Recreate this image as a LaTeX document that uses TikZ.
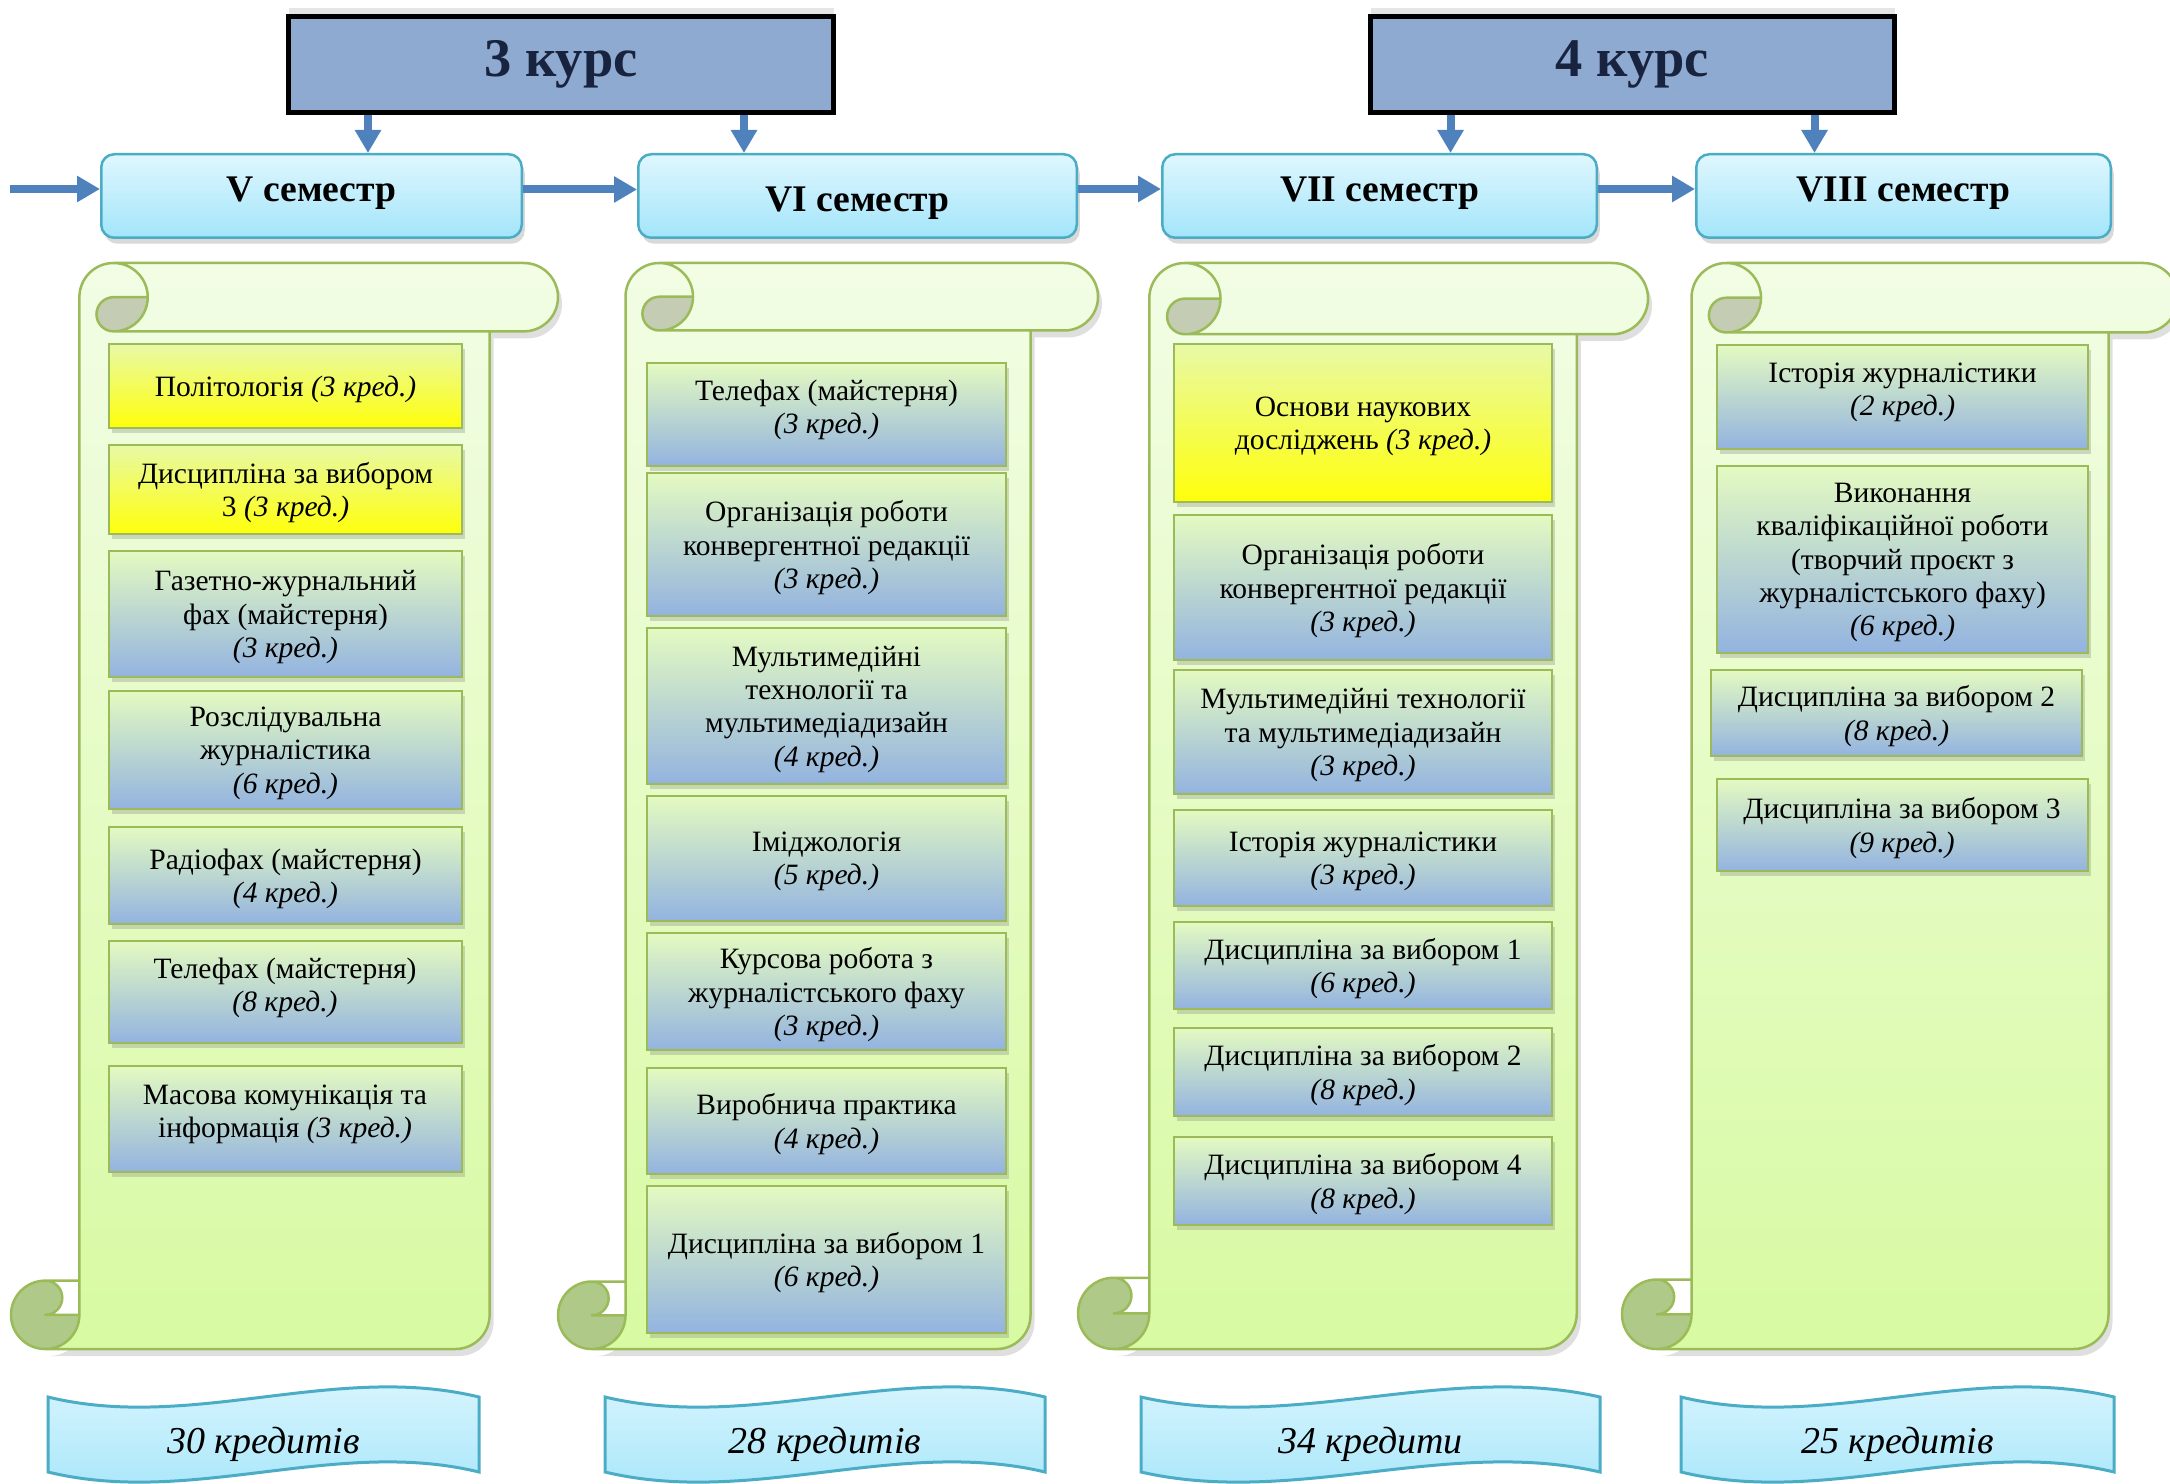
\documentclass[tikz,border=0pt]{standalone}
\usepackage{fontspec}
\setmainfont{Liberation Serif}
\usetikzlibrary{positioning,arrows.meta,shadows}

\definecolor{flowblue}{HTML}{4F81BD}
\definecolor{courseblue}{HTML}{8FAAD1}
\definecolor{coursetext}{HTML}{18243F}
\definecolor{semline}{HTML}{4BACC6}
\definecolor{semtop}{HTML}{DFF7FE}
\definecolor{sembot}{HTML}{A3E5FA}
\definecolor{scrollline}{HTML}{9BBB59}
\definecolor{scrolltop}{HTML}{F2FDE5}
\definecolor{scrollbot}{HTML}{D8FAA2}
\definecolor{rollshade}{HTML}{C4CCB3}
\definecolor{curlshade}{HTML}{AFCA88}
\definecolor{subjtop}{HTML}{E4FAC1}
\definecolor{subjbot}{HTML}{93B3E0}
\definecolor{yeltop}{HTML}{E8F9A6}
\definecolor{yelbot}{HTML}{FFFF0A}

\tikzset{
  course/.style={draw=black, line width=0.5mm, fill=courseblue, minimum height=9.6mm,
    text=coursetext, font=\fontsize{15.5}{18}\selectfont\bfseries,
    drop shadow={opacity=0.2, shadow xshift=0mm, shadow yshift=0.8mm}},
  semester/.style={draw=semline, line width=0.25mm, rounded corners=1.3mm,
    top color=semtop, bottom color=sembot, minimum height=8.35mm, text depth=1.4mm,
    font=\fontsize{10.7}{12}\selectfont\bfseries,
    drop shadow={opacity=0.3, shadow xshift=0.3mm, shadow yshift=-0.6mm}},
  subject/.style={draw=scrollline, line width=0.2mm, top color=subjtop, bottom color=subjbot,
    align=center, inner sep=0.5mm, text depth=0mm, font=\fontsize{8.4}{9.5}\selectfont,
    drop shadow={opacity=0.3, shadow xshift=0.3mm, shadow yshift=-0.5mm}},
  chosen/.style={subject, top color=yeltop, bottom color=yelbot},
  raised/.style={text depth=1.5mm},
  flow/.style={draw=flowblue, line width=0.8mm, -{Triangle[length=2.3mm,width=2.5mm]}},
  credits/.style={draw=semline, line width=0.3mm, top color=semtop, bottom color=sembot},
  creditlabel/.style={font=\fontsize{10.8}{13}\selectfont\itshape},
  outline/.style={draw=scrollline, line width=0.25mm, line join=round},
}

% vertical scroll: left, top, right, bottom
\newcommand{\drawscroll}[4]{%
  \pgfmathsetmacro\rollw{0.125*min(#3-#1,#4-#2)}
  \pgfmathsetmacro\rollh{\rollw/2}
  \pgfmathsetmacro\rollq{\rollw/4}
  \path[top color=scrolltop, bottom color=scrollbot,
    drop shadow={opacity=0.25, shadow xshift=0.4mm, shadow yshift=-0.7mm}]
    (#1+\rollh,#4) arc[start angle=90, delta angle=-90, radius=\rollh]
    -- (#1+\rollw,#2+\rollh) arc[start angle=180, delta angle=90, radius=\rollh]
    -- (#3-\rollh,#2) arc[start angle=270, delta angle=180, radius=\rollh]
    -- (#3-\rollw,#2+\rollw) -- (#3-\rollw,#4-\rollh) arc[start angle=0, delta angle=90, radius=\rollh]
    -- cycle;
  \fill[rollshade] (#1+2*\rollw,#2+\rollh) arc[start angle=0, delta angle=90, radius=\rollh]
    arc[start angle=90, delta angle=180, radius=\rollq] -- cycle;
  \fill[curlshade] (#1+\rollw,#4-\rollh) arc[start angle=0, delta angle=270, radius=\rollh]
    arc[start angle=270, delta angle=180, radius=\rollq] -- cycle;
  \draw[outline] (#1+\rollw,#4-\rollw) -- (#1+\rollw,#2+\rollh)
    arc[start angle=180, delta angle=90, radius=\rollh]
    -- (#3-\rollh,#2) arc[start angle=270, delta angle=180, radius=\rollh]
    -- (#3-\rollw,#2+\rollw) -- (#3-\rollw,#4-\rollh) arc[start angle=0, delta angle=90, radius=\rollh]
    -- (#1+\rollh,#4) arc[start angle=90, delta angle=180, radius=\rollh] -- cycle
    (#1+1.5*\rollw,#2) arc[start angle=270, delta angle=180, radius=\rollh]
    arc[start angle=90, delta angle=180, radius=\rollq] -- (#1+2*\rollw,#2+\rollh)
    (#3-\rollw,#2+\rollw) -- (#1+1.5*\rollw,#2+\rollw)
    (#1+\rollh,#4-\rollw) arc[start angle=270, delta angle=180, radius=\rollq] -- (#1+\rollw,#4-\rollh)
    (#1+\rollh,#4) arc[start angle=90, delta angle=-90, radius=\rollh] -- (#1+\rollw,#4-\rollw);
}

% wavy credit band: left, right, name, text
\newcommand{\drawband}[4]{%
  \pgfmathsetmacro\bandA{#1+(#2-#1)/3}
  \pgfmathsetmacro\bandB{#1+2*(#2-#1)/3}
  \path[credits] (#1,1397) .. controls (\bandA,1432) and (\bandB,1362) .. (#2,1397)
    -- (#2,1472) .. controls (\bandB,1437) and (\bandA,1507) .. (#1,1472) -- cycle;
  \node[creditlabel] (#3) at ({(#1+#2)/2},1444) {#4};
}

\begin{document}
\begin{tikzpicture}[x=0.1mm, y=-0.1mm]
  \useasboundingbox (0,0) rectangle (2170,1483);

  % scrolls
  \drawscroll{11}{263}{558}{1349}
  \drawscroll{558}{263}{1098}{1349}
  \drawscroll{1078}{263}{1648}{1349}
  \drawscroll{1622}{263}{2178}{1349}

  % courses and semesters
  \node[course, minimum width=54.5mm] (c3) at (561,64.5) {3 курс};
  \node[course, minimum width=52.4mm] (c4) at (1632.5,64.5) {4 курс};

  \node[semester, minimum width=42.05mm] (s5) at (311.5,196) {V семестр};
  \node[semester, minimum width=43.85mm, text height=4.6mm] (s6) at (857.5,196) {VI семестр};
  \node[semester, minimum width=43.45mm] (s7) at (1379.5,196) {VII семестр};
  \node[semester, minimum width=41.45mm] (s8) at (1903.5,196) {VIII семестр};

  \coordinate (entry) at (10,189);
  \draw[flow] (entry) -- (s5.west |- entry);
  \draw[flow] ([yshift=0.65mm]s5.east) -- ([yshift=0.65mm]s6.west);
  \draw[flow] ([yshift=0.7mm]s6.east) -- ([yshift=0.7mm]s7.west);
  \draw[flow] ([yshift=0.7mm]s7.east) -- ([yshift=0.7mm]s8.west);

  \draw[flow] ([xshift=8.2mm]c3.south west) -- ([xshift=8.2mm]c3.south west |- s5.north);
  \draw[flow] ([xshift=-9.2mm]c3.south east) -- ([xshift=-9.2mm]c3.south east |- s6.north);
  \draw[flow] ([xshift=8.25mm]c4.south west) -- ([xshift=8.25mm]c4.south west |- s7.north);
  \draw[flow] ([xshift=-8.25mm]c4.south east) -- ([xshift=-8.25mm]c4.south east |- s8.north);

  % V semester
  \node[chosen, minimum width=35.3mm, minimum height=8.4mm] (v1) at (285.5,386) {Політологія \textit{(3 кред.)}};
  \node[chosen, minimum width=35.3mm, minimum height=8.9mm] (v2) at (285.5,489.5) {Дисципліна за вибором\\3 \textit{(3 кред.)}};
  \node[subject, minimum width=35.3mm, minimum height=12.6mm] (v3) at (285.5,614) {Газетно-журнальний\\фах (майстерня)\\\textit{(3 кред.)}};
  \node[subject, minimum width=35.3mm, minimum height=11.8mm] (v4) at (285.5,750) {Розслідувальна\\журналістика\\\textit{(6 кред.)}};
  \node[subject, minimum width=35.3mm, minimum height=9.7mm] (v5) at (285.5,875.5) {Радіофах (майстерня)\\\textit{(4 кред.)}};
  \node[subject, raised, minimum width=35.3mm, minimum height=10.2mm] (v6) at (285,992) {Телефах (майстерня)\\\textit{(8 кред.)}};
  \node[subject, raised, minimum width=35.3mm, minimum height=10.6mm] (v7) at (285,1119) {Масова комунікація та\\інформація \textit{(3 кред.)}};

  % VI semester
  \node[subject, raised, minimum width=35.9mm, minimum height=10.3mm] (w1) at (826.5,414.5) {Телефах (майстерня)\\\textit{(3 кред.)}};
  \node[subject, minimum width=35.9mm, minimum height=14.3mm] (w2) at (826.5,544.5) {Організація роботи\\конвергентної редакції\\\textit{(3 кред.)}};
  \node[subject, minimum width=35.9mm, minimum height=15.6mm] (w3) at (826.5,706) {Мультимедійні\\технології та\\мультимедіадизайн\\\textit{(4 кред.)}};
  \node[subject, minimum width=35.9mm, minimum height=12.5mm] (w4) at (826.5,858.5) {Іміджологія\\\textit{(5 кред.)}};
  \node[subject, minimum width=35.9mm, minimum height=11.7mm] (w5) at (826.5,991.5) {Курсова робота з\\журналістського фаху\\\textit{(3 кред.)}};
  \node[subject, minimum width=35.9mm, minimum height=10.6mm] (w6) at (826.5,1121) {Виробнича практика\\\textit{(4 кред.)}};
  \node[subject, minimum width=35.9mm, minimum height=14.7mm] (w7) at (826.5,1259.5) {Дисципліна за вибором 1\\\textit{(6 кред.)}};

  % VII semester
  \node[chosen, minimum width=37.8mm, minimum height=15.8mm] (x1) at (1363,423) {Основи наукових\\досліджень \textit{(3 кред.)}};
  \node[subject, minimum width=37.8mm, minimum height=14.5mm] (x2) at (1363,587.5) {Організація роботи\\конвергентної редакції\\\textit{(3 кред.)}};
  \node[subject, minimum width=37.8mm, minimum height=12.4mm] (x3) at (1363,732) {Мультимедійні технології\\та мультимедіадизайн\\\textit{(3 кред.)}};
  \node[subject, minimum width=37.8mm, minimum height=9.6mm] (x4) at (1363,858) {Історія журналістики\\\textit{(3 кред.)}};
  \node[subject, minimum width=37.8mm, minimum height=8.7mm] (x5) at (1363,965.5) {Дисципліна за вибором 1\\\textit{(6 кред.)}};
  \node[subject, minimum width=37.8mm, minimum height=8.8mm] (x6) at (1363,1072) {Дисципліна за вибором 2\\\textit{(8 кред.)}};
  \node[subject, minimum width=37.8mm, minimum height=8.8mm] (x7) at (1363,1181) {Дисципліна за вибором 4\\\textit{(8 кред.)}};

  % VIII semester
  \node[subject, raised, minimum width=37.1mm, minimum height=10.4mm] (y1) at (1902.5,397) {Історія журналістики\\\textit{(2 кред.)}};
  \node[subject, minimum width=37.1mm, minimum height=18.7mm] (y2) at (1902.5,559.5) {Виконання\\кваліфікаційної роботи\\(творчий проєкт з\\журналістського фаху)\\\textit{(6 кред.)}};
  \node[subject, minimum width=37.1mm, minimum height=8.6mm] (y3) at (1896.5,713) {Дисципліна за вибором 2\\\textit{(8 кред.)}};
  \node[subject, minimum width=37.1mm, minimum height=9.2mm] (y4) at (1902,825) {Дисципліна за вибором 3\\\textit{(9 кред.)}};

  % credits
  \drawband{48}{479}{b5}{30 кредитів}
  \drawband{605}{1045}{b6}{28 кредитів}
  \drawband{1141}{1600}{b7}{34 кредити}
  \drawband{1681}{2114}{b8}{25 кредитів}
\end{tikzpicture}
\end{document}
